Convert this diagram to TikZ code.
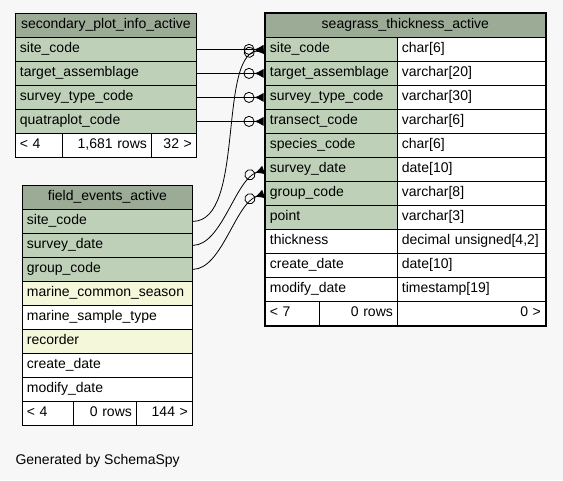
\documentclass[tikz,border=0pt]{standalone}
\usepackage{fontspec}
\setmainfont{Liberation Sans}
\usetikzlibrary{arrows.meta}
\definecolor{pagebg}{HTML}{F7F7F7}
\definecolor{headc}{HTML}{9BAB96}
\definecolor{keyc}{HTML}{BED1B8}
\definecolor{idxc}{HTML}{F4F7DA}
\tikzset{
  cell/.style={draw, line width=0.8pt, anchor=north west, minimum height=24pt,
    inner xsep=4.5pt, inner ysep=0pt, text height=10pt, text depth=3.5pt,
    font=\fontsize{14}{16}\selectfont, align=left},
  headcell/.style={cell, fill=headc, align=center},
  footcell/.style={cell, fill=white, align=right},
  fk/.style={line width=0.8pt, shorten >=1.5pt,
    -{Circle[open,length=11pt,width=11pt] Latex[reversed,length=9pt,width=9pt]}}
}
\begin{document}
\begin{tikzpicture}[x=1pt,y=-1pt]
        \fill [pagebg] (0,0) rectangle (563,480);
        \useasboundingbox (0,0) rectangle (563,480);
        % secondary_plot_info_active
        \node[headcell, text width=172pt] (spi) at (15,13) {secondary\_plot\_info\_active};
        \foreach \n/\name [count=\i from 0] in {site/site\_code, target/target\_assemblage,
                survey/survey\_type\_code, quatra/quatraplot\_code}{
                        \node[cell, fill=keyc, text width=172pt] (spi-\n) at (15,{37+24*\i}) {\name};
                }
        \node[footcell, align=left, text width=38pt] (spi-foot1) at (15,133) {< 4};
        \node[footcell, text width=80pt] (spi-foot2) at (62,133) {1,681 rows};
        \node[footcell, text width=36pt] (spi-foot3) at (151,133) {32 >};
        % field_events_active
        \node[headcell, text width=161pt] (fe) at (22,185) {field\_events\_active};
        \foreach \n/\name/\c [count=\i from 0] in {site/site\_code/keyc, survey/survey\_date/keyc,
                group/group\_code/keyc, season/marine\_common\_season/idxc,
                sample/marine\_sample\_type/white, recorder/recorder/idxc,
                create/create\_date/white, modify/modify\_date/white}{
                        \node[cell, fill=\c, text width=161pt] (fe-\n) at (22,{209+24*\i}) {\name};
                }
        \node[footcell, align=left, text width=42pt] (fe-foot1) at (22,401) {< 4};
        \node[footcell, text width=54pt] (fe-foot2) at (73,401) {0 rows};
        \node[footcell, text width=47pt] (fe-foot3) at (136,401) {144 >};
        % seagrass_thickness_active
        \node[headcell, text width=271pt] (sta) at (265,13) {seagrass\_thickness\_active};
        \foreach \n/\name/\type/\c [count=\i from 0] in {site/site\_code/char[6]/keyc,
                target/target\_assemblage/varchar[20]/keyc, survey/survey\_type\_code/varchar[30]/keyc,
                transect/transect\_code/varchar[6]/keyc, species/species\_code/char[6]/keyc,
                sdate/survey\_date/date[10]/keyc, group/group\_code/varchar[8]/keyc,
                point/point/varchar[3]/keyc, thick/thickness/{decimal unsigned[4,2]}/white,
                create/create\_date/date[10]/white, modify/modify\_date/timestamp[19]/white}{
                        \node[cell, fill=\c, text width=123pt] (sta-\n) at (265,{37+24*\i}) {\name};
                        \node[cell, fill=white, text width=139pt] (sta-\n-type) at (397,{37+24*\i}) {\type};
                }
        \node[footcell, align=left, text width=45pt] (sta-foot1) at (265,301) {< 7};
        \node[footcell, text width=69pt] (sta-foot2) at (319,301) {0 rows};
        \node[footcell, text width=139pt] (sta-foot3) at (397,301) {0 >};
        \draw [line width=2.6pt] (sta.north west) rectangle (sta-foot3.south east);
        % foreign keys
        \draw [fk] (spi-site.east) -- (sta-site.west);
        \draw [fk] (spi-target.east) -- (sta-target.west);
        \draw [fk] (spi-survey.east) -- (sta-survey.west);
        \draw [fk] (spi-quatra.east) -- (sta-transect.west);
        \draw [fk] (fe-site.east) .. controls (245,221) and (218,58) .. (sta-site.west);
        \draw [fk] (fe-survey.east) .. controls (222,245) and (235,180) .. (sta-sdate.west);
        \draw [fk] (fe-group.east) .. controls (222,269) and (235,204) .. (sta-group.west);
        \node[anchor=west, font=\fontsize{14}{16}\selectfont] (credit) at (12,461) {Generated by SchemaSpy};
\end{tikzpicture}
\end{document}
